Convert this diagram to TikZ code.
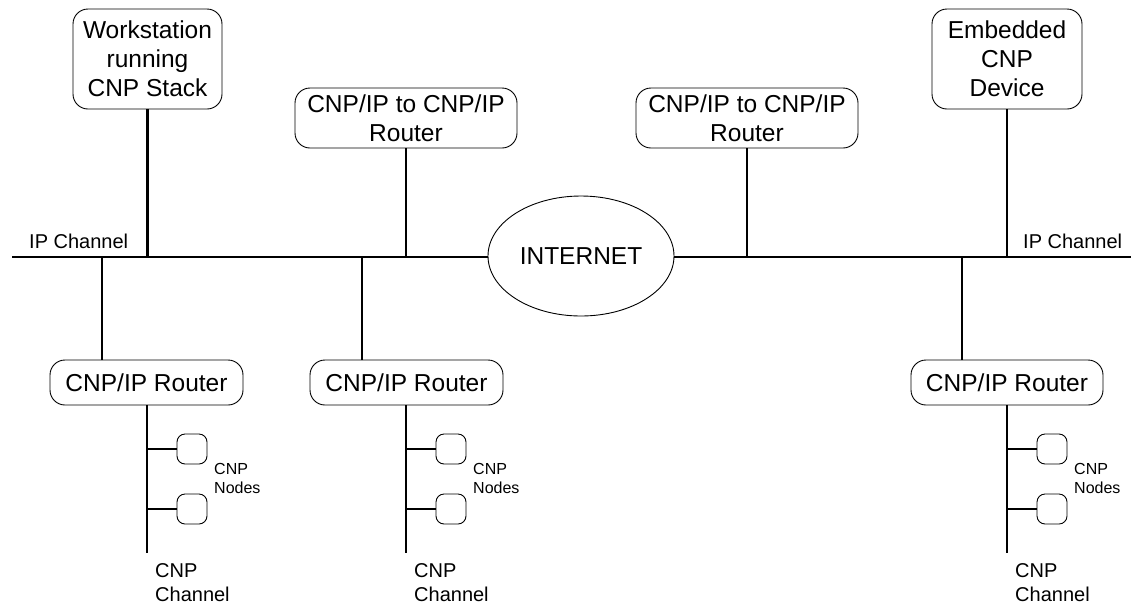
\documentclass[tikz,border=0pt]{standalone}
\usepackage{fontspec}
\setmainfont{Liberation Sans}
\usetikzlibrary{shapes.geometric}
\begin{document}
\begin{tikzpicture}[x=1pt,y=-1pt,
  bigfont/.style={font=\fontsize{24.5}{29}\selectfont},
  box/.style={draw,line width=0.9pt,rounded corners=15pt,align=center,bigfont,inner sep=0pt},
  smallbox/.style={draw,line width=0.9pt,rounded corners=8pt,minimum width=30pt,minimum height=30pt,inner sep=0pt},
  wire/.style={line width=2.4pt},
  lbl/.style={font=\fontsize{20}{24}\selectfont,align=left,inner sep=0pt},
  tiny/.style={font=\fontsize{16}{19}\selectfont,align=left,inner sep=0pt}]
\useasboundingbox (0,0) rectangle (1135,606);
% top boxes
\node[box,minimum width=149pt,minimum height=100pt] (ws) at (147.5,59) {Workstation\\running\\CNP Stack};
\node[box,minimum width=222pt,minimum height=60pt] (tr1) at (406,118) {CNP/IP to CNP/IP\\Router};
\node[box,minimum width=222pt,minimum height=60pt] (tr2) at (747,118) {CNP/IP to CNP/IP\\Router};
\node[box,minimum width=150pt,minimum height=100pt] (emb) at (1007,59) {Embedded\\CNP\\Device};
% internet
\node[draw,ellipse,line width=0.9pt,minimum width=186pt,minimum height=120pt,bigfont,inner sep=0pt] (inet) at (581,256) {INTERNET};
% bus
\coordinate (bl) at (12,257);
\coordinate (br) at (1131,257);
\draw[wire] (bl) -- (inet.west |- bl);
\draw[wire] (inet.east |- br) -- (br);
\node[lbl,anchor=base west] (ipl) at (29,248) {IP Channel};
\node[lbl,anchor=base west] (ipr) at (1023,248) {IP Channel};
% connectors of top boxes
\draw[wire] (ws.south) -- (ws.south |- bl);
\draw[wire] (tr1.south) -- (tr1.south |- bl);
\draw[wire] (tr2.south) -- (tr2.south |- bl);
\draw[wire] (emb.south) -- (emb.south |- bl);
% bottom routers
\node[box,minimum width=193pt,minimum height=45pt] (r1) at (146.5,382.5) {CNP/IP Router};
\node[box,minimum width=193pt,minimum height=45pt] (r2) at (406.5,382.5) {CNP/IP Router};
\node[box,minimum width=192pt,minimum height=45pt] (r3) at (1007,382.5) {CNP/IP Router};
\coordinate (j1) at (102,257);
\coordinate (j2) at (362,257);
\coordinate (j3) at (962,257);
\draw[wire] (j1) -- (j1 |- r1.north);
\draw[wire] (j2) -- (j2 |- r2.north);
\draw[wire] (j3) -- (j3 |- r3.north);
% CNP channels
\coordinate (c1) at (147,553);
\coordinate (c2) at (406,553);
\coordinate (c3) at (1007,553);
\draw[wire] (r1.south -| c1) -- (c1);
\draw[wire] (r2.south -| c2) -- (c2);
\draw[wire] (r3.south -| c3) -- (c3);
% CNP nodes
\node[smallbox] (n1a) at (192,449) {};
\node[smallbox] (n1b) at (192,509) {};
\node[smallbox] (n2a) at (451,449) {};
\node[smallbox] (n2b) at (451,509) {};
\node[smallbox] (n3a) at (1052,449) {};
\node[smallbox] (n3b) at (1052,509) {};
\draw[wire] (n1a.west -| c1) -- (n1a.west);
\draw[wire] (n1b.west -| c1) -- (n1b.west);
\draw[wire] (n2a.west -| c2) -- (n2a.west);
\draw[wire] (n2b.west -| c2) -- (n2b.west);
\draw[wire] (n3a.west -| c3) -- (n3a.west);
\draw[wire] (n3b.west -| c3) -- (n3b.west);
\node[tiny,anchor=base west] (t1) at (214,493) {CNP\\Nodes};
\node[tiny,anchor=base west] (t2) at (473,493) {CNP\\Nodes};
\node[tiny,anchor=base west] (t3) at (1074,493) {CNP\\Nodes};
\node[lbl,anchor=base west] (ch1) at (155,601) {CNP\\Channel};
\node[lbl,anchor=base west] (ch2) at (414,601) {CNP\\Channel};
\node[lbl,anchor=base west] (ch3) at (1015,601) {CNP\\Channel};
\end{tikzpicture}
\end{document}
